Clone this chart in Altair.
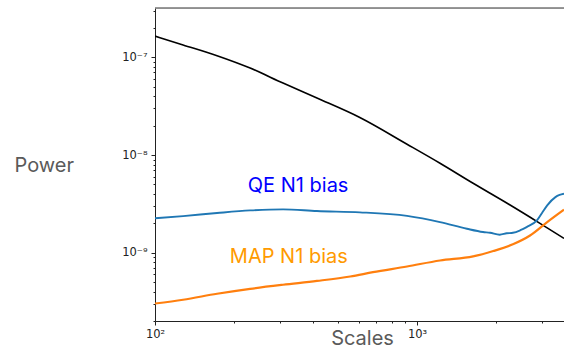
import altair as alt
import pandas as pd

# Signal (black)
sig_x = [100, 128, 172.5, 230.7, 308, 415, 605, 916, 1224, 1637, 2208, 2946, 3639]
sig_y = [1.65e-7, 1.34e-7, 1.04e-7, 7.77e-8, 5.45e-8, 3.83e-8, 2.42e-8, 1.29e-8,
         8.24e-9, 5.14e-9, 3.21e-9, 2.0e-9, 1.40e-9]

# QE N1 bias (blue)
qe_x = [100, 128, 172.5, 230.7, 308, 415, 605, 916, 1224, 1550, 1786, 1900, 2068,
        2200, 2323, 2480, 2620, 2868, 3000, 3140, 3375, 3500, 3639]
qe_y = [2.25e-9, 2.37e-9, 2.55e-9, 2.71e-9, 2.78e-9, 2.67e-9, 2.59e-9, 2.38e-9,
        2.06e-9, 1.76e-9, 1.63e-9, 1.60e-9, 1.53e-9, 1.58e-9, 1.60e-9, 1.70e-9,
        1.83e-9, 2.14e-9, 2.55e-9, 3.05e-9, 3.71e-9, 3.90e-9, 4.02e-9]

# MAP N1 bias (orange)
map_x = [100, 128, 172.5, 230.7, 308, 415, 556, 679, 916, 1224, 1637, 1955, 2323,
         2700, 3140, 3639]
map_y = [3.02e-10, 3.30e-10, 3.80e-10, 4.27e-10, 4.70e-10, 5.14e-10, 5.71e-10,
         6.32e-10, 7.23e-10, 8.33e-10, 9.16e-10, 1.04e-9, 1.22e-9, 1.50e-9,
         2.06e-9, 2.76e-9]

labels = ["QE N1 bias", "MAP N1 bias"]
label_x = [226, 193]
label_y = [4.8e-9, 8.95e-10]
label_colors = ["#0000ff", "#ff9a00"]

x_domain = [100, 3639]
y_domain = [2.0e-10, 3.2e-7]

x_ticks = [m * 10 ** e for e in (2, 3) for m in range(1, 10) if x_domain[0] <= m * 10 ** e <= x_domain[1]]
y_ticks = [m * 10.0 ** e for e in (-10, -9, -8, -7) for m in range(1, 10)
           if y_domain[0] <= m * 10.0 ** e <= y_domain[1]]

rows = []
for name, xs, ys in (("signal", sig_x, sig_y), ("qe", qe_x, qe_y), ("map", map_x, map_y)):
    for i, (a, b) in enumerate(zip(xs, ys)):
        rows.append({"series": name, "x": a, "y": b, "order": i})
df = pd.DataFrame(rows)
lab_df = pd.DataFrame({"label": labels, "x": label_x, "y": label_y, "color": label_colors})

is_decade = "abs(log(datum.value)/LN10 - round(log(datum.value)/LN10)) < 1e-6"
sup = ("replace(replace(replace(replace(replace(replace(replace(replace(replace(replace("
       "toString(round(log(datum.value)/LN10)),'-','⁻'),'0','⁰'),'1','¹'),'2','²'),'3','³'),"
       "'4','⁴'),'5','⁵'),'7','⁷'),'8','⁸'),'9','⁹')")
label_expr = f"{is_decade} ? '10' + {sup} : ''"

xscale = alt.Scale(type="log", domain=x_domain, nice=False)
yscale = alt.Scale(type="log", domain=y_domain, nice=False)

tick_size = {"condition": {"test": is_decade, "value": 4}, "value": 2}

TITLE_FONT = "Inter"

x_axis = alt.Axis(values=x_ticks, labelExpr=label_expr, title="Scales", grid=False,
                  tickSize=tick_size, tickColor="#222", domainColor="#222",
                  labelFont="DejaVu Sans", labelFontSize=11.5, labelColor="#222",
                  labelPadding=3, labelFlush=False,
                  titleFont=TITLE_FONT, titleFontSize=20, titleFontWeight="normal",
                  titleColor="#5a5a5a", titleX=207, titleY=23, titleAlign="center",
                  titleBaseline="alphabetic")
y_axis = alt.Axis(values=y_ticks, labelExpr=label_expr, title="Power", grid=False,
                  tickSize=tick_size, tickColor="#222", domainColor="#222",
                  labelFont="DejaVu Sans", labelFontSize=11.5, labelColor="#222",
                  labelPadding=4, labelFlush=False,
                  titleFont=TITLE_FONT, titleFontSize=20, titleFontWeight="normal",
                  titleColor="#5a5a5a", titleAngle=0, titleAlign="left",
                  titleBaseline="middle", titleX=-141, titleY=157)

base = alt.Chart(df)
lines = base.mark_line(clip=True, interpolate="monotone").encode(
    x=alt.X("x:Q", scale=xscale, axis=x_axis),
    y=alt.Y("y:Q", scale=yscale, axis=y_axis),
    detail="series:N",
    order="order:Q",
    color=alt.Color("series:N", scale=alt.Scale(domain=["signal", "qe", "map"],
                                                range=["#000000", "#1f77b4", "#ff7f0e"]),
                    legend=None),
    strokeWidth=alt.StrokeWidth("series:N", scale=alt.Scale(domain=["signal", "qe", "map"],
                                                            range=[1.6, 2.2, 2.2]),
                                legend=None),
)

texts = alt.Chart(lab_df).mark_text(font=TITLE_FONT, fontSize=20, align="left",
                                    baseline="middle").encode(
    x=alt.X("x:Q", scale=xscale),
    y=alt.Y("y:Q", scale=yscale),
    text="label:N",
    color=alt.Color("color:N", scale=None),
)

top = alt.Chart(lab_df).mark_rule(color="#777", strokeWidth=1).encode(
    x=alt.value(0), x2=alt.value(409), y=alt.value(0)
)

chart = alt.layer(lines, texts, top).properties(
    width=409, height=313,
    autosize=alt.AutoSizeParams(type="none"),
    padding={"left": 155, "top": 8, "right": 0, "bottom": 28},
).configure_view(stroke=None).configure(background="white")

chart.save("out.html", embed_options={"renderer": "svg", "actions": False})
